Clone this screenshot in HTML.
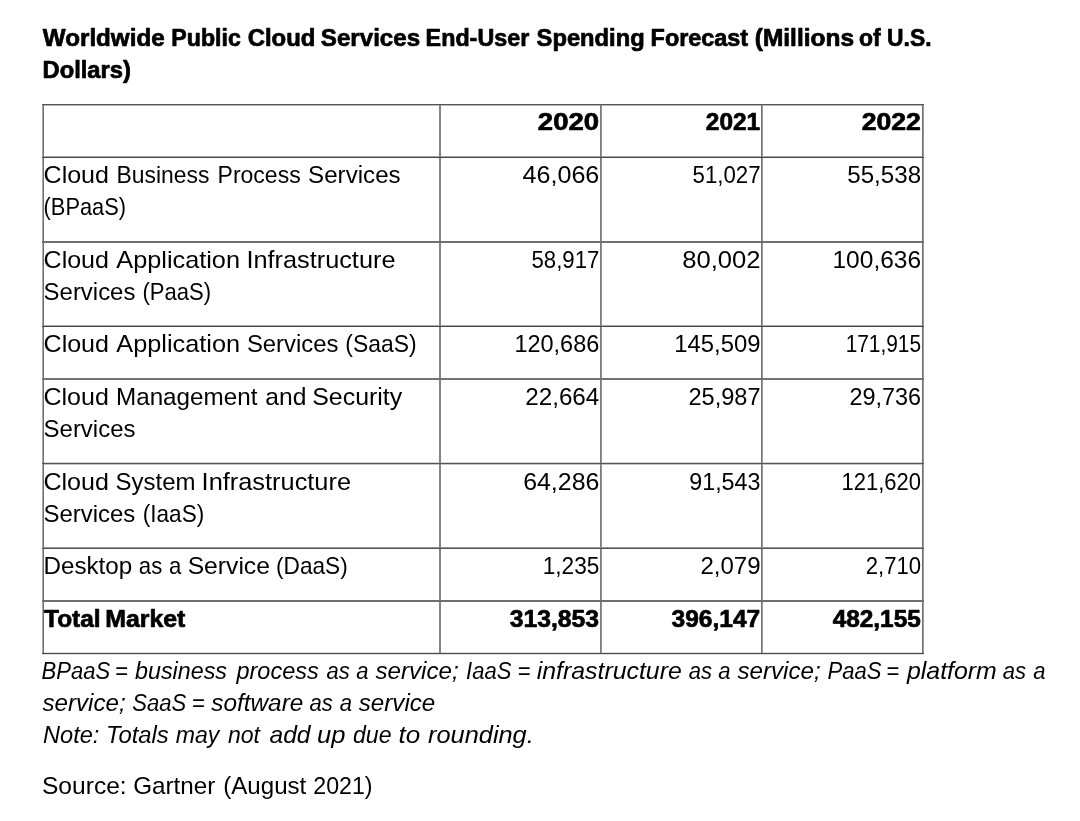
<!DOCTYPE html>
<html><head><meta charset="utf-8"><style>
html,body{margin:0;padding:0;background:#fff;width:1080px;height:821px;overflow:hidden}
svg{display:block;font-family:"Liberation Sans",sans-serif;filter:grayscale(1)}
.bd{stroke:#000;stroke-width:0.7px;stroke-linejoin:round}
</style></head><body>
<svg width="1080" height="821" viewBox="0 0 1080 821">
<g shape-rendering="crispEdges">
<rect x="42" y="105" width="882" height="1" fill="#b4b4b4"/>
<rect x="42" y="156" width="882" height="1" fill="#a8a8a8"/>
<rect x="42" y="325" width="882" height="1" fill="#ababab"/>
<rect x="42" y="462" width="882" height="1" fill="#d4d4d4"/>
<rect x="42" y="464" width="882" height="1" fill="#c4c4c4"/>
<rect x="42" y="547" width="882" height="1" fill="#959595"/>
<rect x="42" y="652" width="882" height="1" fill="#dddddd"/>
<rect x="42" y="654" width="882" height="1" fill="#e0e0e0"/>
<rect x="42" y="104" width="1" height="550" fill="#aaaaaa"/>
<rect x="43" y="104" width="1" height="550" fill="#707070"/>
<rect x="439" y="104" width="1" height="550" fill="#848484"/>
<rect x="440" y="104" width="1" height="550" fill="#848484"/>
<rect x="600" y="104" width="1" height="550" fill="#7e7e7e"/>
<rect x="601" y="104" width="1" height="550" fill="#929292"/>
<rect x="761" y="104" width="1" height="550" fill="#767676"/>
<rect x="762" y="104" width="1" height="550" fill="#989898"/>
<rect x="922" y="104" width="1" height="550" fill="#707070"/>
<rect x="923" y="104" width="1" height="550" fill="#9a9a9a"/>
<rect x="42" y="104" width="882" height="1" fill="#555555"/>
<rect x="42" y="157" width="882" height="1" fill="#464646"/>
<rect x="42" y="241" width="882" height="1" fill="#6e6e6e"/>
<rect x="42" y="242" width="882" height="1" fill="#707070"/>
<rect x="42" y="326" width="882" height="1" fill="#464646"/>
<rect x="42" y="378" width="882" height="1" fill="#747474"/>
<rect x="42" y="379" width="882" height="1" fill="#707070"/>
<rect x="42" y="463" width="882" height="1" fill="#555555"/>
<rect x="42" y="548" width="882" height="1" fill="#555555"/>
<rect x="42" y="600" width="882" height="1" fill="#6e6e6e"/>
<rect x="42" y="601" width="882" height="1" fill="#6e6e6e"/>
<rect x="42" y="653" width="882" height="1" fill="#4a4a4a"/>
</g>
<g fill="#000">
<text transform="translate(42.85,45.70) scale(1.0419,1)" font-size="23.2" font-weight="bold" class="bd">Worldwide</text>
<text transform="translate(171.35,45.70) scale(0.9981,1)" font-size="23.2" font-weight="bold" class="bd">Public</text>
<text transform="translate(247.65,45.70) scale(1.0308,1)" font-size="23.2" font-weight="bold" class="bd">Cloud</text>
<text transform="translate(320.85,45.70) scale(1.0400,1)" font-size="23.2" font-weight="bold" class="bd">Services</text>
<text transform="translate(425.60,45.70) scale(1.0049,1)" font-size="23.2" font-weight="bold" class="bd">End-User</text>
<text transform="translate(536.60,45.70) scale(1.0224,1)" font-size="23.2" font-weight="bold" class="bd">Spending</text>
<text transform="translate(650.59,45.70) scale(1.0090,1)" font-size="23.2" font-weight="bold" class="bd">Forecast</text>
<text transform="translate(754.80,45.70) scale(1.0550,1)" font-size="23.2" font-weight="bold" class="bd">(Millions</text>
<text transform="translate(858.95,45.70) scale(0.9881,1)" font-size="23.2" font-weight="bold" class="bd">of</text>
<text transform="translate(887.06,45.70) scale(0.9870,1)" font-size="23.2" font-weight="bold" class="bd">U.S.</text>
<text transform="translate(42.53,77.80) scale(1.0224,1)" font-size="23.2" font-weight="bold" class="bd">Dollars)</text>
<text transform="translate(43.56,183.30) scale(1.0437,1)" font-size="24">Cloud</text>
<text transform="translate(116.45,183.30) scale(0.9545,1)" font-size="24">Business</text>
<text transform="translate(217.54,183.30) scale(0.9592,1)" font-size="24">Process</text>
<text transform="translate(308.09,183.30) scale(1.0063,1)" font-size="24">Services</text>
<text transform="translate(43.59,215.30) scale(0.9097,1)" font-size="24">(BPaaS)</text>
<text transform="translate(43.56,268.10) scale(1.0437,1)" font-size="24">Cloud</text>
<text transform="translate(116.30,268.10) scale(1.0537,1)" font-size="24">Application</text>
<text transform="translate(246.39,268.10) scale(1.0551,1)" font-size="24">Infrastructure</text>
<text transform="translate(43.60,300.10) scale(0.9975,1)" font-size="24">Services</text>
<text transform="translate(142.38,300.10) scale(0.9188,1)" font-size="24">(PaaS)</text>
<text transform="translate(43.56,352.00) scale(1.0437,1)" font-size="24">Cloud</text>
<text transform="translate(116.30,352.00) scale(1.0546,1)" font-size="24">Application</text>
<text transform="translate(246.90,352.00) scale(0.9953,1)" font-size="24">Services</text>
<text transform="translate(345.37,352.00) scale(0.9540,1)" font-size="24">(SaaS)</text>
<text transform="translate(43.46,404.70) scale(1.0421,1)" font-size="24">Cloud</text>
<text transform="translate(115.99,404.70) scale(1.0092,1)" font-size="24">Management</text>
<text transform="translate(265.27,404.70) scale(1.0267,1)" font-size="24">and</text>
<text transform="translate(312.26,404.70) scale(1.0374,1)" font-size="24">Security</text>
<text transform="translate(43.60,436.70) scale(0.9986,1)" font-size="24">Services</text>
<text transform="translate(43.46,489.60) scale(1.0437,1)" font-size="24">Cloud</text>
<text transform="translate(115.60,489.60) scale(0.9997,1)" font-size="24">System</text>
<text transform="translate(201.59,489.60) scale(1.0573,1)" font-size="24">Infrastructure</text>
<text transform="translate(43.50,521.60) scale(0.9986,1)" font-size="24">Services</text>
<text transform="translate(142.76,521.60) scale(0.9406,1)" font-size="24">(IaaS)</text>
<text transform="translate(43.49,573.50) scale(1.0081,1)" font-size="24">Desktop</text>
<text transform="translate(138.87,573.50) scale(0.9242,1)" font-size="24">as</text>
<text transform="translate(168.92,573.50) scale(0.9242,1)" font-size="24">a</text>
<text transform="translate(187.67,573.50) scale(1.0282,1)" font-size="24">Service</text>
<text transform="translate(276.06,573.50) scale(0.9429,1)" font-size="24">(DaaS)</text>
<text transform="translate(44.05,626.80) scale(1.0190,1)" font-size="24" font-weight="bold" class="bd">Total</text>
<text transform="translate(105.21,626.80) scale(1.0357,1)" font-size="24" font-weight="bold" class="bd">Market</text>
<text transform="translate(537.85,130.10) scale(1.1462,1)" font-size="24" font-weight="bold" class="bd">2020</text>
<text transform="translate(705.85,130.10) scale(1.0180,1)" font-size="24" font-weight="bold" class="bd">2021</text>
<text transform="translate(861.65,130.10) scale(1.1085,1)" font-size="24" font-weight="bold" class="bd">2022</text>
<text transform="translate(522.50,183.30) scale(1.0471,1)" font-size="24">46,066</text>
<text transform="translate(692.60,183.30) scale(0.9253,1)" font-size="24">51,027</text>
<text transform="translate(847.20,183.30) scale(1.0074,1)" font-size="24">55,538</text>
<text transform="translate(531.50,268.10) scale(0.9239,1)" font-size="24">58,917</text>
<text transform="translate(682.23,268.10) scale(1.0672,1)" font-size="24">80,002</text>
<text transform="translate(832.48,268.10) scale(1.0222,1)" font-size="24">100,636</text>
<text transform="translate(514.42,352.00) scale(0.9789,1)" font-size="24">120,686</text>
<text transform="translate(674.31,352.00) scale(0.9941,1)" font-size="24">145,509</text>
<text transform="translate(845.63,352.00) scale(0.8700,1)" font-size="24">171,915</text>
<text transform="translate(525.19,404.70) scale(1.0103,1)" font-size="24">22,664</text>
<text transform="translate(688.42,404.70) scale(0.9825,1)" font-size="24">25,987</text>
<text transform="translate(849.52,404.70) scale(0.9756,1)" font-size="24">29,736</text>
<text transform="translate(523.16,489.60) scale(1.0380,1)" font-size="24">64,286</text>
<text transform="translate(689.23,489.60) scale(0.9714,1)" font-size="24">91,543</text>
<text transform="translate(841.48,489.60) scale(0.9180,1)" font-size="24">121,620</text>
<text transform="translate(542.66,573.50) scale(0.9436,1)" font-size="24">1,235</text>
<text transform="translate(700.40,573.50) scale(1.0015,1)" font-size="24">2,079</text>
<text transform="translate(865.68,573.50) scale(0.9232,1)" font-size="24">2,710</text>
<text transform="translate(509.65,626.80) scale(1.0300,1)" font-size="24" font-weight="bold" class="bd">313,853</text>
<text transform="translate(671.55,626.80) scale(1.0219,1)" font-size="24" font-weight="bold" class="bd">396,147</text>
<text transform="translate(832.65,626.80) scale(1.0161,1)" font-size="24" font-weight="bold" class="bd">482,155</text>
<text transform="translate(41.56,679.00) scale(0.9186,1)" font-size="24" font-style="italic">BPaaS</text>
<text transform="translate(114.99,679.00) scale(0.9186,1)" font-size="24" font-style="italic">=</text>
<text transform="translate(135.00,679.00) scale(0.9713,1)" font-size="24" font-style="italic">business</text>
<text transform="translate(236.48,679.00) scale(0.9790,1)" font-size="24" font-style="italic">process</text>
<text transform="translate(326.61,679.00) scale(0.9186,1)" font-size="24" font-style="italic">as</text>
<text transform="translate(356.28,679.00) scale(0.9186,1)" font-size="24" font-style="italic">a</text>
<text transform="translate(375.50,679.00) scale(1.0059,1)" font-size="24" font-style="italic">service;</text>
<text transform="translate(466.08,679.00) scale(0.9186,1)" font-size="24" font-style="italic">IaaS</text>
<text transform="translate(517.49,679.00) scale(0.9186,1)" font-size="24" font-style="italic">=</text>
<text transform="translate(536.77,679.00) scale(1.0359,1)" font-size="24" font-style="italic">infrastructure</text>
<text transform="translate(688.73,679.00) scale(0.9186,1)" font-size="24" font-style="italic">as</text>
<text transform="translate(718.15,679.00) scale(0.9186,1)" font-size="24" font-style="italic">a</text>
<text transform="translate(737.50,679.00) scale(1.0059,1)" font-size="24" font-style="italic">service;</text>
<text transform="translate(827.54,679.00) scale(0.9186,1)" font-size="24" font-style="italic">PaaS</text>
<text transform="translate(886.24,679.00) scale(0.9186,1)" font-size="24" font-style="italic">=</text>
<text transform="translate(907.00,679.00) scale(1.0359,1)" font-size="24" font-style="italic">platform</text>
<text transform="translate(1002.73,679.00) scale(0.9186,1)" font-size="24" font-style="italic">as</text>
<text transform="translate(1033.15,679.00) scale(0.9186,1)" font-size="24" font-style="italic">a</text>
<text transform="translate(42.50,710.90) scale(1.0059,1)" font-size="24" font-style="italic">service;</text>
<text transform="translate(132.21,710.90) scale(0.9212,1)" font-size="24" font-style="italic">SaaS</text>
<text transform="translate(191.84,710.90) scale(0.9212,1)" font-size="24" font-style="italic">=</text>
<text transform="translate(211.25,710.90) scale(1.0154,1)" font-size="24" font-style="italic">software</text>
<text transform="translate(309.57,710.90) scale(0.9212,1)" font-size="24" font-style="italic">as</text>
<text transform="translate(339.64,710.90) scale(0.9212,1)" font-size="24" font-style="italic">a</text>
<text transform="translate(358.75,710.90) scale(1.0076,1)" font-size="24" font-style="italic">service</text>
<text transform="translate(43.00,743.00) scale(0.9833,1)" font-size="24" font-style="italic">Note:</text>
<text transform="translate(106.01,743.00) scale(0.9934,1)" font-size="24" font-style="italic">Totals</text>
<text transform="translate(175.73,743.00) scale(0.9621,1)" font-size="24" font-style="italic">may</text>
<text transform="translate(227.93,743.00) scale(0.9621,1)" font-size="24" font-style="italic">not</text>
<text transform="translate(269.50,743.00) scale(1.0259,1)" font-size="24" font-style="italic">add</text>
<text transform="translate(316.93,743.00) scale(1.0652,1)" font-size="24" font-style="italic">up</text>
<text transform="translate(353.00,743.00) scale(0.9636,1)" font-size="24" font-style="italic">due</text>
<text transform="translate(398.54,743.00) scale(1.0850,1)" font-size="24" font-style="italic">to</text>
<text transform="translate(428.00,743.00) scale(1.0574,1)" font-size="24" font-style="italic">rounding.</text>
<text transform="translate(41.98,793.60) scale(1.0244,1)" font-size="24">Source:</text>
<text transform="translate(133.19,793.60) scale(1.0103,1)" font-size="24">Gartner</text>
<text transform="translate(223.19,793.60) scale(1.0056,1)" font-size="24">(August</text>
<text transform="translate(313.23,793.60) scale(0.9665,1)" font-size="24">2021)</text>
</g>
</svg>
</body></html>
